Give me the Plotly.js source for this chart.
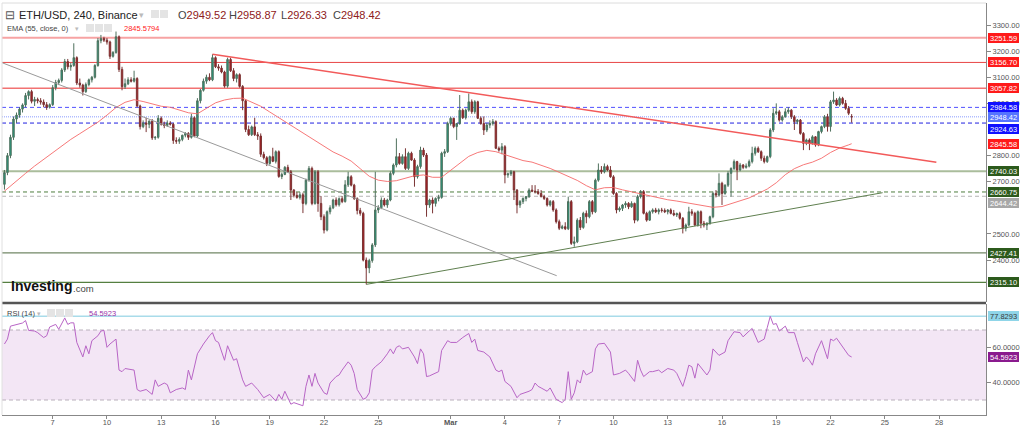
<!DOCTYPE html>
<html><head><meta charset="utf-8">
<script src="https://cdn.plot.ly/plotly-3.0.1.min.js"></script>
<style>html,body{margin:0;padding:0;background:#fff;}#chart{width:1024px;height:428px;}</style>
</head><body><div id="chart"></div>
<script>
// ---------- DATA ----------
const startTime = '2022-02-04 08:00';   // first 4h candle
const stepHours = 4;
const opens = [2690,2735,2800,2870,2940,2955,2978,2994,3030,3045,
3008,3015,3010,3005,2995,2985,2995,3060,3080,3088,
3128,3160,3140,3145,3175,3078,3070,3045,3072,3090,
3100,3145,3240,3248,3242,3235,3180,3195,3255,3130,
3064,3075,3090,3085,3095,2990,2911,2925,2920,2932,
2868,2870,2943,2920,2915,2925,2920,2858,2855,2862,
2878,2885,2870,2945,2875,3010,3050,3085,3100,3090,
3175,3140,3135,3120,3066,3168,3125,3095,3110,3065,
3010,2900,2880,2910,2880,2875,2805,2792,2770,2796,
2778,2815,2720,2728,2755,2738,2668,2648,2640,2650,
2617,2706,2751,2617,2738,2617,2566,2515,2585,2600,
2630,2612,2635,2624,2688,2719,2687,2636,2590,2579,
2400,2370,2398,2458,2592,2600,2630,2611,2630,2732,
2764,2796,2770,2796,2751,2809,2783,2719,2758,2821,
2802,2611,2630,2617,2636,2640,2809,2815,2923,2943,
2911,2923,2974,2945,2974,3006,2968,3006,2943,2923,
2898,2917,2923,2930,2828,2821,2834,2726,2730,2738,
2668,2611,2624,2636,2643,2668,2664,2662,2655,2643,
2636,2611,2624,2592,2547,2522,2528,2520,2624,2464,
2470,2553,2525,2579,2566,2624,2585,2706,2745,2738,
2758,2745,2719,2655,2592,2598,2611,2617,2604,2617,
2553,2643,2662,2579,2553,2585,2592,2585,2592,2590,
2585,2592,2579,2573,2578,2560,2522,2534,2585,2579,
2534,2585,2541,2534,2541,2566,2655,2649,2694,2655,
2687,2732,2751,2777,2745,2764,2755,2760,2777,2809,
2828,2815,2790,2777,2796,2898,2962,2968,2936,2949,
2968,2974,2949,2930,2936,2885,2847,2860,2847,2872,
2841,2892,2911,2949,2911,3006,3013,2994,3019,3000,
2981,2949.52];
const highs = [2745,2810,2880,2950,2965,2985,3000,3040,3050,3052,
3025,3022,3020,3015,3005,3000,3070,3090,3095,3135,
3170,3170,3155,3230,3180,3095,3075,3080,3095,3105,
3150,3250,3262,3255,3250,3240,3200,3275,3260,3140,
3095,3100,3100,3125,3100,2995,2935,2945,2935,2940,
2875,2955,2950,2930,2935,2932,2925,2870,2870,2880,
2890,2890,2960,2950,3020,3055,3095,3110,3115,3188,
3180,3150,3145,3125,3175,3175,3135,3115,3115,3070,
3015,2915,2915,2945,2890,2885,2815,2798,2800,2830,
2820,2820,2735,2760,2765,2745,2672,2660,2660,2658,
2712,2760,2758,2745,2745,2645,2575,2590,2610,2635,
2640,2640,2645,2706,2738,2725,2692,2640,2600,2585,
2410,2405,2465,2738,2610,2640,2638,2635,2740,2770,
2866,2810,2805,2828,2815,2815,2790,2765,2834,2830,
2810,2635,2640,2640,2650,2815,2825,2930,2949,2945,
2925,3032,2980,2980,3038,3015,3012,3010,2950,2950,
2925,2935,2940,2935,2835,2848,2840,2735,2745,2742,
2672,2630,2640,2645,2675,2687,2687,2672,2668,2650,
2640,2630,2630,2598,2555,2535,2545,2643,2630,2490,
2560,2565,2585,2590,2630,2630,2712,2770,2760,2770,
2765,2760,2725,2660,2605,2615,2625,2622,2625,2620,
2650,2668,2668,2585,2590,2598,2600,2598,2600,2598,
2595,2598,2592,2582,2585,2565,2540,2604,2595,2585,
2590,2590,2550,2545,2570,2662,2668,2732,2700,2690,
2740,2755,2785,2780,2772,2768,2770,2785,2834,2835,
2835,2820,2800,2800,2905,2981,3000,2975,2955,2981,
2985,2978,2955,2940,2940,2890,2865,2866,2878,2875,
2895,2915,2955,2960,3013,3045,3020,3026,3025,3013,
2990,2958.87];
const lows = [2670,2725,2790,2860,2925,2945,2965,2985,3015,3000,
2990,3000,2995,2985,2975,2980,2990,3050,3070,3080,
3120,3130,3125,3140,3070,3060,3030,3040,3065,3080,
3095,3140,3230,3235,3225,3170,3175,3190,3120,3050,
3055,3070,3080,3080,2985,2900,2905,2890,2905,2860,
2860,2865,2915,2905,2910,2915,2845,2845,2845,2855,
2870,2860,2865,2870,2870,3000,3045,3075,3085,3085,
3135,3125,3115,3060,3060,3120,3085,3080,3060,2974,
2890,2875,2875,2875,2860,2795,2785,2760,2765,2775,
2770,2715,2710,2725,2735,2630,2640,2635,2632,2580,
2610,2700,2610,2612,2585,2553,2502,2510,2575,2595,
2605,2605,2618,2620,2680,2682,2630,2575,2570,2395,
2307,2350,2390,2450,2580,2595,2605,2600,2625,2725,
2755,2765,2765,2745,2745,2780,2681,2712,2750,2795,
2566,2600,2579,2605,2625,2635,2795,2810,2915,2905,
2860,2918,2940,2938,2968,2960,2960,2940,2918,2879,
2890,2905,2915,2825,2815,2805,2694,2715,2722,2630,
2579,2600,2615,2625,2638,2660,2655,2650,2640,2630,
2605,2605,2585,2540,2515,2518,2515,2515,2458,2451,
2465,2515,2520,2541,2560,2575,2580,2700,2730,2732,
2740,2715,2650,2579,2585,2588,2600,2595,2600,2541,
2548,2636,2575,2547,2550,2578,2580,2575,2582,2580,
2575,2575,2568,2565,2555,2502,2510,2530,2570,2530,
2528,2522,2525,2515,2535,2560,2640,2645,2611,2650,
2680,2643,2745,2706,2740,2748,2750,2755,2770,2800,
2810,2780,2770,2772,2790,2890,2955,2930,2930,2945,
2960,2940,2898,2920,2880,2821,2840,2821,2842,2834,
2836,2885,2905,2892,2892,2998,2990,2988,2995,2975,
2955,2926.33];
const closes = [2735,2800,2870,2940,2955,2978,2994,3030,3045,3008,
3015,3010,3005,2995,2985,2995,3060,3080,3088,3128,
3160,3140,3145,3175,3078,3070,3045,3072,3090,3100,
3145,3240,3248,3242,3235,3180,3195,3255,3130,3064,
3075,3090,3085,3095,2990,2911,2925,2920,2932,2868,
2870,2943,2920,2915,2925,2920,2858,2855,2862,2878,
2885,2870,2945,2875,3010,3050,3085,3100,3090,3175,
3140,3135,3120,3066,3168,3125,3095,3110,3065,3010,
2900,2880,2910,2880,2875,2805,2792,2770,2796,2778,
2815,2720,2728,2755,2738,2668,2648,2640,2650,2617,
2706,2751,2617,2738,2617,2566,2515,2585,2600,2630,
2612,2635,2624,2688,2719,2687,2636,2590,2579,2400,
2370,2398,2458,2592,2600,2630,2611,2630,2732,2764,
2796,2770,2796,2751,2809,2783,2719,2758,2821,2802,
2611,2630,2617,2636,2640,2809,2815,2923,2943,2911,
2923,2974,2945,2974,3006,2968,3006,2943,2923,2898,
2917,2923,2930,2828,2821,2834,2726,2730,2738,2668,
2611,2624,2636,2643,2668,2664,2662,2655,2643,2636,
2611,2624,2592,2547,2522,2528,2520,2624,2464,2470,
2553,2525,2579,2566,2624,2585,2706,2745,2738,2758,
2745,2719,2655,2592,2598,2611,2617,2604,2617,2553,
2643,2662,2579,2553,2585,2592,2585,2592,2590,2585,
2592,2579,2573,2578,2560,2522,2534,2585,2579,2534,
2585,2541,2534,2541,2566,2655,2649,2694,2655,2687,
2732,2751,2777,2745,2764,2755,2760,2777,2809,2828,
2815,2790,2777,2796,2898,2962,2968,2936,2949,2968,
2974,2949,2930,2936,2885,2847,2860,2847,2872,2841,
2892,2911,2949,2911,3006,3013,2994,3019,3000,2981,
2962,2948.42];

// EMA(55) read every 12h (candle indices 0,1,4,7,...,280,281)
const emaValues = [2664,
2674,2703,2732,2760,2786,2812,2837,2862,2884,2905,
2928,2955,2984,3004,3014,3007,2998,2989,2985,2974,
2964,2960,2981,3002,3013,3019,3020,3006,2989,2967,
2945,2922,2900,2877,2857,2836,2814,2798,2779,2750,
2721,2706,2701,2704,2713,2723,2726,2717,2717,2744,
2773,2797,2812,2820,2815,2803,2791,2781,2775,2763,
2751,2736,2722,2705,2685,2669,2677,2678,2669,2661,
2654,2645,2637,2631,2626,2620,2614,2607,2602,2605,
2616,2625,2638,2655,2672,2696,2727,2750,2765,2775,
2790,2812,2829,2841,
2845.58];

// RSI(14) read at candle indices
const rsiIdx = [0,1,2,4,6,7,8,10,11,13,14,15,17,18,20,21,22,23,24,26,27,28,29,31,32,33,34,35,37,38,39,40,43,44,45,47,49,50,51,53,54,55,57,59,60,61,62,64,66,68,69,70,71,73,74,76,77,79,80,82,84,86,88,90,91,92,93,95,96,99,100,101,102,103,104,106,107,108,110,111,112,114,115,116,117,119,120,121,122,123,125,127,128,129,130,131,132,134,136,137,138,139,140,141,143,144,145,147,148,150,152,154,155,156,157,159,161,163,164,165,166,168,170,171,174,175,176,177,178,180,181,182,183,185,186,187,188,189,190,191,192,193,195,196,197,199,201,202,204,206,207,209,210,211,212,214,215,217,218,220,222,223,225,226,227,228,229,230,233,234,235,237,239,240,242,244,245,247,248,250,252,253,254,255,256,257,259,260,262,263,265,266,267,268,269,271,272,273,274,275,276,277,279,280,281];
const rsiVal = [62,64.8,72.2,73,74,75.4,69.8,69.4,68.5,65.7,66.7,71.7,73.2,70.4,76.9,73.2,74.1,74.1,62.9,54.6,61,56.4,63.9,66.7,69.4,69.8,60.1,62,64.8,47.1,46.2,48,47.1,36,35,36,33.2,41.5,37.8,39.7,38.8,34.1,36,36.9,36,47.1,41.5,56.4,62,66.7,68.5,63.9,62.9,52.7,61,52.7,53.6,41.5,37.8,39.7,36,31.3,33.2,29.4,33.2,30.4,35,27.6,28.5,26.7,37.8,44.3,37.8,45.2,39.7,34.1,33.2,39.7,43.4,44.3,47.1,51.8,49.9,45.2,36,30.4,31.3,34.1,47.1,49,51.8,56.4,59.2,56.4,60.1,61,59.2,60.1,54.6,50.8,59.2,56.4,43.4,43.8,45.2,46.2,58.3,63.9,62.9,62.9,65.7,68,62.9,64.8,58.3,57.4,54.6,47.1,46.2,47.1,40.6,37.8,31.3,33.2,35,36,39.7,37.8,36.9,35,36.9,33.2,30.4,28.5,30.4,46.2,30.4,34.1,41.5,39.7,47.1,44.3,46.2,59.2,62,62.4,57.4,44.3,45.2,47.1,45.2,40.6,52.7,47.1,43.4,46.2,46.2,47.1,45.6,48,47.1,45.2,37.8,43.4,49.9,49,42.5,50.8,44.3,47.1,59.2,55.5,57.4,63.9,69,68.5,66.1,69.4,70.9,62.9,64.8,71.3,77.83,73.2,73.7,69.4,72.2,68.5,68.5,62.9,51.8,54.6,52.7,49.9,56.4,63.9,58.3,53.6,64.8,63.9,65.3,62.9,58.3,55.5,54.5923];

// horizontal levels (price panel)
const levelValues = [3251.59, 3156.70, 3057.82, 2984.58, 2948.42, 2924.63, 2740.03, 2660.75, 2644.42, 2427.41, 2315.10];
const emaLast = 2845.58;
const rsiLevel = 77.8293;
const rsiLast = 54.5923;
const rsiBand = [30, 70];

// trend lines [time, price]
const grayTrend  = {t:['2022-02-04 04:45','2022-03-06 20:40'], p:[3155.7, 2340.3]};
const redTrend   = {t:['2022-02-15 20:00','2022-03-27 20:24'], p:[3188, 2774.4]};
const greenTrend = {t:['2022-02-24 08:00','2022-03-24 21:07'], p:[2307, 2658]};

// axis tick labels
const tickDates = ['2022-02-07','2022-02-10','2022-02-13','2022-02-16','2022-02-19','2022-02-22','2022-02-25','2022-03-01','2022-03-04','2022-03-07','2022-03-10','2022-03-13','2022-03-16','2022-03-19','2022-03-22','2022-03-25','2022-03-28'];
const tickLabels = ['7','10','13','16','19','22','25','<b>Mar</b>','4','7','10','13','16','19','22','25','28'];
const priceTicks = [2400, 2500, 2700, 2800, 3000, 3100, 3200, 3300];
const rsiTicks = [40, 60];

// ---------- BUILD ----------
function fmt(ms){ return new Date(ms).toISOString().slice(0,16).replace('T',' '); }
const t0 = Date.parse(startTime.replace(' ','T')+':00Z');
const times = opens.map((_,i)=>fmt(t0 + i*stepHours*3600000));
const emaIdx = [0]; for(let k=1;k<=280;k+=3) emaIdx.push(k); emaIdx.push(opens.length-1);

const FONT = 'Arial, "Liberation Sans", sans-serif';
const traces = [
  {type:'candlestick', x:times, open:opens, high:highs, low:lows, close:closes,
   xaxis:'x', yaxis:'y', whiskerwidth:0,
   increasing:{line:{color:'#4f705d',width:1}, fillcolor:'#1f9e82'},
   decreasing:{line:{color:'#7a3434',width:1}, fillcolor:'#b0141a'},
   hoverinfo:'skip', showlegend:false},
  {type:'scatter', mode:'lines', x:emaIdx.map(i=>times[i]), y:emaValues, yaxis:'y',
   line:{color:'rgba(245,105,105,0.9)', width:1}, hoverinfo:'skip'},
  {type:'scatter', mode:'lines', x:grayTrend.t, y:grayTrend.p, yaxis:'y', line:{color:'#9a9a9a', width:1}, hoverinfo:'skip'},
  {type:'scatter', mode:'lines', x:redTrend.t, y:redTrend.p, yaxis:'y', line:{color:'#f25a5a', width:1.5}, hoverinfo:'skip'},
  {type:'scatter', mode:'lines', x:greenTrend.t, y:greenTrend.p, yaxis:'y', line:{color:'#5f7f4f', width:1}, hoverinfo:'skip'},
  {type:'scatter', mode:'lines', x:rsiIdx.map(i=>times[i]), y:rsiVal, yaxis:'y2',
   line:{color:'#b865c6', width:1}, hoverinfo:'skip'}
];

const PX = p => (p-2)/984, PY = p => (415-p)/412;
// style + label offset (px) for each level; offsets keep the price boxes apart as in the reference
const levelStyle = [
  {c:'#f7a3a3', w:2,   d:'solid', box:'#ff1a1a', dy:0},
  {c:'#e84545', w:1,   d:'solid', box:'#ff1a1a', dy:0},
  {c:'#f27272', w:1.5, d:'solid', box:'#ff1a1a', dy:0},
  {c:'#5050ff', w:1,   d:'4px,3px', box:'#1010ff', dy:0},
  {c:'#8a9cff', w:1,   d:'1px,1px', box:'#5574ff', dy:0},
  {c:'#1f1fe0', w:1,   d:'4px,3px', box:'#1010ff', dy:-6},
  {c:'#aabd9c', w:2,   d:'solid', box:'#2c5a1c', dy:0},
  {c:'#4e7e3e', w:1,   d:'4px,3px', box:'#2c5a1c', dy:0},
  {c:'#b4b4b4', w:1,   d:'4px,3px', box:'#a8a8a8', dy:-7},
  {c:'#728766', w:1.2, d:'solid', box:'#2c5a1c', dy:0},
  {c:'#557f40', w:1.2, d:'solid', box:'#2c5a1c', dy:0}
];
const shapes = [];
const annotations = [];
const TS = '\u2009';
function boxLabel(yref, y, text, bg, fg, dy){
  annotations.push({xref:'paper', yref:yref, x:1, y:y, xanchor:'left', yanchor:'middle', xshift:2, yshift:dy||0, showarrow:false,
    text:TS+text+TS, bgcolor:bg, borderpad:0.5, borderwidth:0, font:{family:FONT, size:7.5, color:fg||'#fff'}});
}
levelValues.forEach((v,k)=>{
  const s = levelStyle[k];
  shapes.push({type:'line', xref:'paper', yref:'y', x0:0, x1:1, y0:v, y1:v, layer:'below', line:{color:s.c, width:s.w, dash:s.d}});
  boxLabel('y', v, v.toFixed(2), s.box, '#fff', s.dy);
});
boxLabel('y', emaLast, emaLast.toFixed(2), '#ff1a1a');
// RSI band and lines
shapes.push({type:'rect', xref:'paper', yref:'y2', x0:0, x1:1, y0:rsiBand[0], y1:rsiBand[1], layer:'below', fillcolor:'#f3e6f5', line:{width:0}});
rsiBand.forEach(v=>shapes.push({type:'line', xref:'paper', yref:'y2', x0:0, x1:1, y0:v, y1:v, layer:'below', line:{color:'#b9b0bb', width:1, dash:'4px,3px'}}));
shapes.push({type:'line', xref:'paper', yref:'y2', x0:0, x1:1, y0:rsiLevel, y1:rsiLevel, layer:'below', line:{color:'#a9dcea', width:1.5}});
boxLabel('y2', rsiLevel, rsiLevel.toFixed(4), '#8fd5e8', '#3a3a3a');
boxLabel('y2', rsiLast, rsiLast.toFixed(4), '#8a1a8e');
// panel separator & borders
shapes.push({type:'line', xref:'paper', yref:'paper', x0:0, x1:1, y0:PY(303), y1:PY(303), line:{color:'#555', width:2.5}});
shapes.push({type:'line', xref:'paper', yref:'paper', x0:0, x1:1, y0:1, y1:1, line:{color:'#dcdcdc', width:1}});
shapes.push({type:'line', xref:'paper', yref:'paper', x0:0, x1:0, y0:0, y1:1, line:{color:'#e0e0e0', width:1}});
// header icon boxes
[[151,10],[160,10],[86,24],[95,24],[104,24],[47,309],[56,309],[65,309]].forEach(([x,y])=>{
  shapes.push({type:'rect', xref:'paper', yref:'paper', x0:PX(x), x1:PX(x+8), y0:PY(y+8), y1:PY(y), fillcolor:'#e4e4e4', line:{width:0}});
});
function txt(x,y,text,size,color){
  annotations.push({xref:'paper', yref:'paper', x:PX(x), y:PY(y), xanchor:'left', yanchor:'middle', showarrow:false,
    text:text, font:{family:FONT, size:size, color:color}});
}
txt(3,15,'⊟',12,'#555');
txt(17,15,'ETH/USD, 240, Binance',11,'#222');
txt(137,15,'▾',9,'#bbb');
const ohlcLabels = [['O',opens],['H',highs],['L',lows],['C',closes]];
const ohlcX = [176,227,279,331];
ohlcLabels.forEach(([l,arr],k)=>{
  const v = arr[arr.length-1];
  txt(ohlcX[k],15,l+'<span style="color:#8e2020">'+v.toFixed(2)+'</span>',11,'#444');
});
txt(5,29,'EMA (55, close, 0)',7.5,'#444');
txt(73,29,'▾',7,'#bbb');
txt(122,29,'2845.5794',7.5,'#ff2222');
txt(5,313,'RSI (14)',7.5,'#444');
txt(35,313,'▾',7,'#bbb');
txt(87,313,rsiLast.toFixed(4),7.5,'#9b30a8');
txt(9,286,'<b>Investing</b>',14,'#111');
txt(71,288,'.com',9.5,'#444');

const layout = {
  width:1024, height:428, margin:{l:2, r:38, t:3, b:13},
  paper_bgcolor:'#fff', plot_bgcolor:'#fff', showlegend:false,
  font:{family:FONT, size:7.5, color:'#555'},
  xaxis:{type:'date', range:['2022-02-04 04:45','2022-03-30 14:15'], rangeslider:{visible:false},
    anchor:'y2', showgrid:false, zeroline:false, showline:true, linecolor:'#888', linewidth:1,
    ticks:'outside', ticklen:3, tickcolor:'#888', tickvals:tickDates, ticktext:tickLabels,
    tickfont:{family:FONT, size:7.5, color:'#555'}, ticklabelstandoff:-3},
  yaxis:{domain:[PY(302),1], range:[2239.6,3384.2], side:'right', showgrid:false, zeroline:false,
    showline:true, linecolor:'#888', ticks:'outside', ticklen:4, tickcolor:'#888',
    tickvals:priceTicks, tickformat:'.2f', tickfont:{family:FONT, size:7.5, color:'#555'}},
  yaxis2:{domain:[0,PY(304)], range:[21.43,84.86], side:'right', anchor:'x', showgrid:false, zeroline:false,
    showline:true, linecolor:'#888', ticks:'outside', ticklen:4, tickcolor:'#888',
    tickvals:rsiTicks, tickformat:'.4f', tickfont:{family:FONT, size:7.5, color:'#555'}},
  shapes:shapes, annotations:annotations
};
Plotly.newPlot('chart', traces, layout, {staticPlot:true, displayModeBar:false});
</script></body></html>
